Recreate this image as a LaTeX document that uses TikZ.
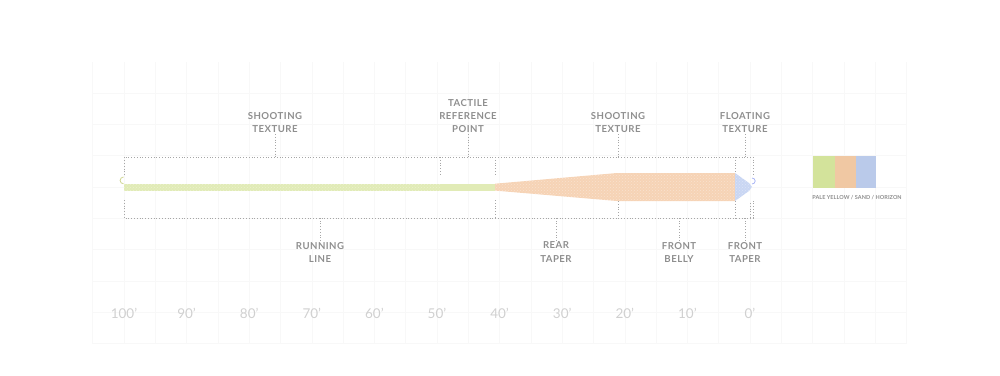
\documentclass[tikz,border=0pt]{standalone}
\usepackage{fontspec}
\setmainfont{Lato}
\usetikzlibrary{patterns}
\definecolor{paleyellow}{HTML}{E1EBB6}
\definecolor{sand}{HTML}{F6D3B5}
\definecolor{horizon}{HTML}{C9D6F3}
\definecolor{swyellow}{HTML}{D3E39B}
\definecolor{swsand}{HTML}{F0C8A3}
\definecolor{swhorizon}{HTML}{BACAEA}
\definecolor{labelgray}{HTML}{8E8E8E}
\definecolor{dotgray}{HTML}{A6A6A6}
\definecolor{scalegray}{HTML}{D0D0D0}
\definecolor{gridgray}{HTML}{F8F8F8}
\newcommand\lblfont{\bfseries\fontsize{9.6}{13.2}\selectfont\addfontfeature{LetterSpace=5}}
\tikzset{
  lbl/.style={font=\lblfont,text=labelgray,align=center,inner sep=0pt,outer ysep=1pt},
  dots/.style={draw=dotgray,line width=0.8pt,dash pattern=on 0.8pt off 2pt},
  gridline/.style={draw=gridgray,line width=0.5pt},
  texture/.style={pattern=crosshatch dots,pattern color=white}
}
\begin{document}
\begin{tikzpicture}[x=1pt,y=-1pt]
\useasboundingbox (0,0) rectangle (1000,375);
% background grid
\foreach \k in {-1,...,25}
  \draw[gridline] (124+\k*31.3,62) -- (124+\k*31.3,344);
\foreach \k in {-3,...,5}
  \draw[gridline] (92.7,187+\k*31.3) -- (906.5,187+\k*31.3);
%line
\fill[paleyellow] (124,183.7) rectangle (495,190.6);
\fill[sand] (495,183.7) -- (617,173) -- (735,173) -- (735,201) -- (617,201) -- (495,190.6) -- cycle;
\fill[horizon] (735,173) -- (749,183) -- (752,187) -- (749,191) -- (735,201) -- cycle;
\fill[texture,opacity=0.35] (124,183.7) rectangle (440,190.6);
\fill[texture,opacity=0.35] (495,183.7) -- (617,173) -- (752,173) -- (752,201) -- (617,201) -- (495,190.6) -- cycle;
\draw[paleyellow!80!olive,line width=0.8pt] (123.5,183.8) arc (90:270:3.4);
\draw[horizon!85!blue,line width=0.8pt] (752,184) arc (90:-90:3.2 and 3);
%brackets
\draw[dots] (124,175) -- (124,157) -- (753,157) -- (753,175);
\draw[dots] (440,157) -- (440,175);
\draw[dots] (495,157) -- (495,175);
\draw[dots] (735,157) -- (735,173);
\draw[dots] (124,200) -- (124,218) -- (753,218) -- (753,200);
\draw[dots] (495,200) -- (495,218);
\draw[dots] (618,201) -- (618,218);
\draw[dots] (735,201) -- (735,218);
\draw[dots] (750,203) -- (750,218);
\coordinate (t1) at (275,157);
\coordinate (t2) at (468,157);
\coordinate (t3) at (618,157);
\coordinate (t4) at (745,157);
\coordinate (b1) at (320,218);
\coordinate (b2) at (556,218);
\coordinate (b3) at (679,218);
\coordinate (b4) at (745,218);
%text
\node[lbl,anchor=south] (shoot1) at (275,134) {SHOOTING\\TEXTURE};
\node[lbl,anchor=south] (tactile) at (468,134) {TACTILE\\REFERENCE\\POINT};
\node[lbl,anchor=south] (shoot2) at (618,134) {SHOOTING\\TEXTURE};
\node[lbl,anchor=south] (float) at (745,134) {FLOATING\\TEXTURE};
\node[lbl,anchor=north] (running) at (320,241) {RUNNING\\LINE};
\node[lbl,anchor=north] (rear) at (556,241) {REAR\\TAPER};
\node[lbl,anchor=north] (belly) at (679,241) {FRONT\\BELLY};
\node[lbl,anchor=north] (front) at (745,241) {FRONT\\TAPER};
\foreach \n/\c in {shoot1/t1,tactile/t2,shoot2/t3,float/t4,running/b1,rear/b2,belly/b3,front/b4}
  \draw[dots] (\n) -- (\c);
%scale
\foreach \d in {100,90,...,0}
  \node[text=scalegray,font=\fontsize{13.5}{14}\selectfont] (ft\d) at (750-6.26*\d,313) {\d’};
%legend
\fill[swyellow] (813,156) rectangle (834.5,187.5);
\fill[swsand] (834.5,156) rectangle (855.5,187.5);
\fill[swhorizon] (855.5,156) rectangle (876,187.5);
\node[text=labelgray,font=\bfseries\fontsize{5.5}{6}\selectfont\addfontfeature{LetterSpace=1}] (legend) at (857,197.5) {PALE YELLOW / SAND / HORIZON};
\end{tikzpicture}
\end{document}
